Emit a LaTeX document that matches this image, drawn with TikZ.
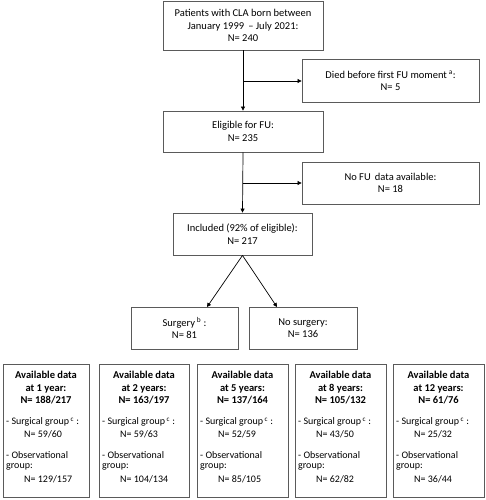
\documentclass[tikz,border=0pt]{standalone}
\usepackage{fontspec}
\setmainfont{Carlito}
\usetikzlibrary{arrows.meta}
\definecolor{boxline}{HTML}{5A5A5A}
\begin{document}
\begin{tikzpicture}[x=1pt,y=-1pt,
  fbox/.style={draw=boxline,line width=0.8pt,inner sep=0pt,align=center,font=\fontsize{10.5}{12.5}\selectfont},
  arr/.style={draw=black,line width=0.7pt,-{Triangle[length=4pt,width=4pt]}},
  bhead/.style={font=\fontsize{10.5}{12.5}\selectfont\bfseries,align=center,inner sep=0pt},
  btxt/.style={font=\fontsize{10}{12}\selectfont,anchor=west,inner sep=0pt}]
\useasboundingbox[fill=white] (0,0) rectangle (486,500);
\node[fbox,minimum width=160pt,minimum height=49pt] (top) at (243,25.5) {Patients with CLA born between\\January 1999 \,– July 2021:\\N= 240};
\node[fbox,minimum width=177pt,minimum height=43pt] (died) at (390.5,81) {Died before first FU moment\,\textsuperscript{a}:\\N= 5};
\node[fbox,minimum width=160pt,minimum height=41pt] (elig) at (243,131.5) {Eligible for FU:\\N= 235};
\node[fbox,minimum width=177pt,minimum height=42pt] (nofu) at (390.5,183) {No FU \,data available:\\N= 18};
\node[fbox,minimum width=139pt,minimum height=42pt] (incl) at (242.5,234) {Included (92\% of eligible):\\N= 217};
\node[fbox,minimum width=107pt,minimum height=42pt] (surg) at (184.5,328) {Surgery\,\textsuperscript{b} :\\N= 81};
\node[fbox,minimum width=108pt,minimum height=42pt] (nosurg) at (303,328) {No surgery:\\N= 136};
\coordinate (b1) at (243,81);
\coordinate (b2) at (243,183);
\coordinate (s1) at (207,307);
\coordinate (s2) at (277,307);
\draw[arr] (top.south) -- (elig.north);
\draw[arr] (b1) -- (died.west);
\draw[arr] (elig.south) -- (incl.north);
\draw[arr] (b2) -- (nofu.west);
\draw[arr] (incl.south) -- (s1);
\draw[arr] (incl.south) -- (s2);
% bottom boxes
\foreach \l/\r/\yr/\tot/\sg/\og [count=\i] in {3/89/1 year/188\slash217/59\slash60/129\slash157, 99/189/2 years/163\slash197/59\slash63/104\slash134, 197/288/5 years/137\slash164/52\slash59/85\slash105, 295/386/8 years/105\slash132/43\slash50/62\slash82, 393/484/12 years/61\slash76/25\slash32/36\slash44}{
  \node[draw=boxline,line width=0.8pt,inner sep=0pt,minimum width={\r-\l},minimum height=133pt] (av\i) at ({(\l+\r)/2},430.5) {};
  \node[bhead] (h\i) at ({(\l+\r)/2},388) {Available data\\at \yr:\\N= \tot};
  \node[btxt] (sa\i) at (\l+3,422) {- Surgical group\,\textsuperscript{c} :};
  \node[btxt] (sb\i) at (\l+21,434) {N= \sg};
  \node[btxt] (oa\i) at (\l+3,455) {- Observational};
  \node[btxt] (ob\i) at (\l+3,467) {group:};
  \node[btxt] (oc\i) at (\l+21,479) {N= \og};
}
\end{tikzpicture}
\end{document}
